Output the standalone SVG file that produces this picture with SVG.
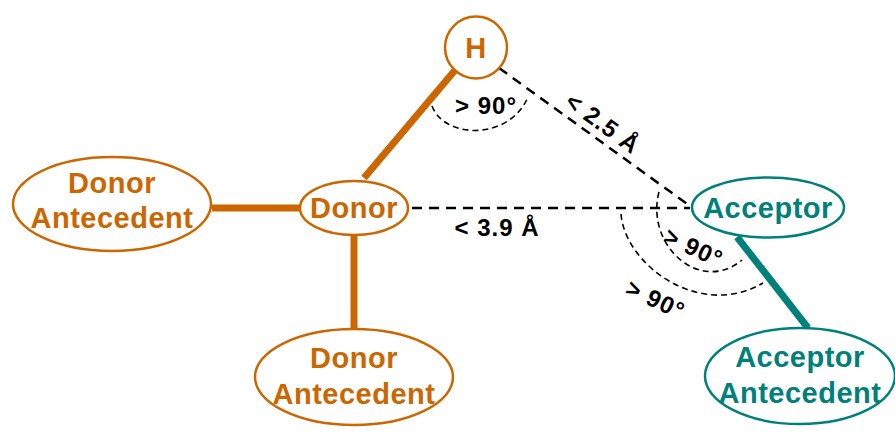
<svg xmlns="http://www.w3.org/2000/svg" width="895" height="432" viewBox="0 0 895 432">
<style>
.don{fill:#fff;stroke:#cc6600;stroke-width:2.5}
.acc{fill:#fff;stroke:#00807a;stroke-width:2.5}
.dt{fill:#cc6600;font-family:"Liberation Sans",Arial,sans-serif;font-weight:bold;font-size:29px;letter-spacing:0.5px;text-anchor:middle}
.at{fill:#00807a;font-family:"Liberation Sans",Arial,sans-serif;font-weight:bold;font-size:29px;letter-spacing:0.5px;text-anchor:middle}
.bond{stroke:#cc6600;stroke-width:7;fill:none}
.abond{stroke:#00807a;stroke-width:7;fill:none}
.hb{stroke:#000;stroke-width:2.5;stroke-dasharray:10 7;fill:none}
.arc{stroke:#000;stroke-width:1.6;stroke-dasharray:6 4;fill:none}
.lbl{fill:#000;font-family:"Liberation Sans",Arial,sans-serif;font-weight:bold;font-size:24px;letter-spacing:1px;text-anchor:middle}
</style>
<g id="connectors">
<line class="bond" x1="212" y1="208" x2="300" y2="208"/>
<line class="bond" x1="364" y1="178" x2="456" y2="69"/>
<line class="bond" x1="354" y1="236" x2="354" y2="330"/>
<line class="abond" x1="737" y1="237" x2="808" y2="328"/>
<line class="hb" x1="499" y1="68" x2="690" y2="206"/>
<line class="hb" x1="412" y1="208" x2="690" y2="208"/>
<path class="arc" d="M432,106 C445,140 510,140 528,97"/>
<path class="arc" d="M659,192 C645,245 700,295 742,260"/>
<path class="arc" d="M621,214 C625,265 700,320 763,283"/>
<text class="lbl" x="486" y="114">&gt; 90°</text>
<text class="lbl" transform="translate(598,130) rotate(36)" x="0" y="0">&lt; 2.5 Å</text>
<text class="lbl" x="497" y="236">&lt; 3.9 Å</text>
<text class="lbl" transform="translate(690,255) rotate(25)" x="0" y="0">&gt; 90°</text>
<text class="lbl" transform="translate(652,307) rotate(25)" x="0" y="0">&gt; 90°</text>
</g>
<g id="H"><circle class="don" cx="476" cy="47.5" r="31"/><text class="dt" x="476" y="58">H</text></g>
<g id="donor"><ellipse class="don" cx="354" cy="208" rx="54" ry="27"/><text class="dt" x="354" y="218">Donor</text></g>
<g id="donor-antecedent-left"><ellipse class="don" cx="112" cy="204" rx="99" ry="47"/><text class="dt" x="112" y="193">Donor</text><text class="dt" x="112" y="228">Antecedent</text></g>
<g id="donor-antecedent-bottom"><ellipse class="don" cx="354" cy="377" rx="99" ry="48"/><text class="dt" x="354" y="368">Donor</text><text class="dt" x="354" y="404">Antecedent</text></g>
<g id="acceptor"><ellipse class="acc" cx="768" cy="207.5" rx="76" ry="30"/><text class="at" x="768" y="218">Acceptor</text></g>
<g id="acceptor-antecedent"><ellipse class="acc" cx="800" cy="376" rx="95" ry="48"/><text class="at" x="800" y="367">Acceptor</text><text class="at" x="800" y="403">Antecedent</text></g>
</svg>
